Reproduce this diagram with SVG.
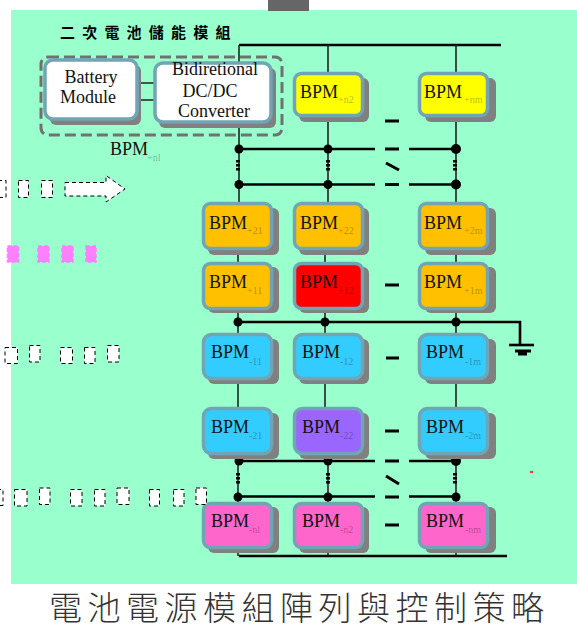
<svg xmlns="http://www.w3.org/2000/svg" width="577" height="636" viewBox="0 0 577 636">
<style>
.shadow{fill:#808080}
.box{stroke:#6fa5b5;stroke-width:3.500}
.o{fill:#ffc000}.y{fill:#ffff00}.b{fill:#33ccff}.r{fill:#ff0000}.p{fill:#9966ff}.k{fill:#ff66cc}.w{fill:#ffffff}
.t{font-family:"Liberation Serif","Times New Roman",serif;font-size:18px;fill:#111}
.s{font-family:"Liberation Serif","Times New Roman",serif;font-size:10px;fill:#000;fill-opacity:.3}
.thin{stroke:#222;stroke-width:1.600;fill:none}
.bus{stroke:#000;stroke-width:2.600;fill:none}
.dots{stroke:#000;stroke-width:4;stroke-dasharray:2.500 1.500;fill:none}
.gl{stroke:#000;stroke-width:3;fill:none}
.mb{fill:#fff;stroke:#000;stroke-width:1;stroke-dasharray:4 3}
.mp{fill:#ff80ff;stroke:#ff80ff;stroke-width:1.500;stroke-dasharray:4 2}
.cjk{font-family:"Noto Sans CJK TC","Liberation Serif",sans-serif}
</style>
<rect x="0" y="0" width="577" height="636" fill="#ffffff"/>
<rect x="11" y="10" width="566" height="574" fill="#99ffcc"/>
<rect x="268" y="0" width="41" height="11" fill="#666666"/>

<g id="connectors">
<path class="bus" d="M239 45H501M239 149H375M409 149H456M239 184.500H375M409 184.500H456M238 322H520V345M240 461H375M409 461H456M240 496.500H375M409 496.500H456M239 556H507"/>
<path class="thin" d="M239 45V62M328 45V72M456 45V72M239 128V202M328 122V202M456 122V202M238 250V262M325 250V262M456 250V262M238 310V333M325 310V333M456 310V333M238 380V407M325 380V407M456 380V407M238 455V502M328 455V502M456 455V502M238 548V556M328 548V556M456 548V556M141 83H154M141 100H154"/>
<path class="dots" d="M238 160V172M328 160V172M455 160V172M238 473V485M328 473V485M455 473V485"/>
<g fill="#000">
<circle cx="239" cy="149" r="4.500"/><circle cx="328" cy="149" r="4.500"/><circle cx="456" cy="149" r="5"/>
<circle cx="239" cy="184.500" r="4.500"/><circle cx="328" cy="184.500" r="4.500"/><circle cx="456" cy="184.500" r="5"/>
<circle cx="238" cy="322" r="4.500"/><circle cx="325" cy="322" r="4.500"/><circle cx="456" cy="322" r="4.500"/>
<circle cx="239" cy="461" r="4.500"/><circle cx="328" cy="461" r="4.500"/><circle cx="456" cy="461" r="5"/>
<circle cx="238" cy="497" r="4.500"/><circle cx="328" cy="497" r="4.500"/><circle cx="456" cy="497" r="4.500"/>
</g>
<path class="bus" d="M509 345H534"/>
<path stroke="#000" stroke-width="3" fill="none" d="M515 351H531M518 354H527"/>
<path class="gl" d="M385 121H399M385 149H399M385 184.500H399M385 285H399M386 358H399M385 431H399M385 461H399M385 497H399M385 525H399"/>
<path class="gl" d="M386 163L399 170M386 476L399 484"/>
<path stroke="#ff0000" stroke-width="1.500" d="M530 472H533"/>
</g>

<g id="label-title"><text class="cjk" x="60" y="38" font-size="15" font-weight="700" letter-spacing="7.200" fill="#000">二次電池儲能模組</text></g>

<g id="bpm-group"><rect x="41" y="57" width="241" height="78" rx="7" fill="none" stroke="#707070" stroke-width="3" stroke-dasharray="11 5"/></g>
<g id="battery-module">
<rect class="shadow" x="50" y="65" width="91" height="60" rx="6"/>
<rect class="box w" x="45" y="60" width="92" height="59" rx="8"/>
<text class="t" x="91" y="83" text-anchor="middle">Battery</text>
<text class="t" x="88" y="103" text-anchor="middle">Module</text>
</g>
<g id="converter">
<rect class="shadow" x="159" y="68" width="117" height="60" rx="6"/>
<rect class="box w" x="155" y="63" width="116" height="59" rx="8"/>
<text class="t" x="215" y="75" text-anchor="middle">Bidiretional</text>
<text class="t" x="210" y="97" text-anchor="middle">DC/DC</text>
<text class="t" x="214" y="117" text-anchor="middle">Converter</text>
</g>
<g id="label-n1"><text class="t" x="110" y="155">BPM</text><text class="s" x="147" y="161">+nl</text></g>

<g id="bpm-n2"><rect class="shadow" x="299" y="78" width="70" height="44" rx="6"/><rect class="box y" x="294.500" y="73.500" width="68" height="42" rx="7"/><text class="t" x="300" y="98">BPM</text><text class="s" x="338" y="103">+n2</text></g>
<g id="bpm-nm"><rect class="shadow" x="425" y="78" width="71" height="44" rx="6"/><rect class="box y" x="419.500" y="73.500" width="68" height="42" rx="7"/><text class="t" x="424" y="98">BPM</text><text class="s" x="464" y="103">+nm</text></g>

<g id="bpm-p21"><rect class="shadow" x="208" y="208" width="71" height="47" rx="6"/><rect class="box o" x="203.500" y="203.500" width="68" height="45" rx="7"/><text class="t" x="209" y="229">BPM</text><text class="s" x="247" y="234">+21</text></g>
<g id="bpm-p22"><rect class="shadow" x="299" y="208" width="70" height="47" rx="6"/><rect class="box o" x="294.500" y="203.500" width="68" height="45" rx="7"/><text class="t" x="300" y="229">BPM</text><text class="s" x="338" y="234">+22</text></g>
<g id="bpm-p2m"><rect class="shadow" x="425" y="208" width="71" height="47" rx="6"/><rect class="box o" x="419.500" y="203.500" width="68" height="45" rx="7"/><text class="t" x="424" y="229">BPM</text><text class="s" x="464" y="234">+2m</text></g>

<g id="bpm-p11"><rect class="shadow" x="208" y="267" width="71" height="46" rx="6"/><rect class="box o" x="203.500" y="263.500" width="68" height="45" rx="7"/><text class="t" x="209" y="288">BPM</text><text class="s" x="247" y="294">+11</text></g>
<g id="bpm-p12"><rect class="shadow" x="299" y="267" width="70" height="46" rx="6"/><rect class="box r" x="294.500" y="263.500" width="68" height="45" rx="7"/><text class="t" x="300" y="288">BPM</text><text class="s" x="338" y="294">+12</text></g>
<g id="bpm-p1m"><rect class="shadow" x="425" y="267" width="71" height="46" rx="6"/><rect class="box o" x="419.500" y="263.500" width="68" height="45" rx="7"/><text class="t" x="424" y="288">BPM</text><text class="s" x="464" y="294">+1m</text></g>

<g id="bpm-m11"><rect class="shadow" x="208" y="339" width="71" height="45" rx="6"/><rect class="box b" x="203.500" y="334.500" width="68" height="44" rx="8"/><text class="t" x="211" y="358">BPM</text><text class="s" x="249" y="365">-11</text></g>
<g id="bpm-m12"><rect class="shadow" x="299" y="339" width="70" height="45" rx="6"/><rect class="box b" x="294.500" y="334.500" width="68" height="44" rx="8"/><text class="t" x="302" y="358">BPM</text><text class="s" x="340" y="365">-12</text></g>
<g id="bpm-m1m"><rect class="shadow" x="425" y="339" width="71" height="45" rx="6"/><rect class="box b" x="419.500" y="334.500" width="68" height="44" rx="8"/><text class="t" x="426" y="358">BPM</text><text class="s" x="465" y="365">-1m</text></g>

<g id="bpm-m21"><rect class="shadow" x="208" y="413" width="71" height="46" rx="6"/><rect class="box b" x="203.500" y="408.500" width="68" height="45" rx="8"/><text class="t" x="211" y="433">BPM</text><text class="s" x="249" y="439">-21</text></g>
<g id="bpm-m22"><rect class="shadow" x="299" y="413" width="70" height="46" rx="6"/><rect class="box p" x="294.500" y="408.500" width="68" height="45" rx="8"/><text class="t" x="302" y="433">BPM</text><text class="s" x="340" y="439">-22</text></g>
<g id="bpm-m2m"><rect class="shadow" x="425" y="413" width="71" height="46" rx="6"/><rect class="box b" x="419.500" y="408.500" width="68" height="45" rx="8"/><text class="t" x="426" y="433">BPM</text><text class="s" x="465" y="439">-2m</text></g>

<g id="bpm-mn1"><rect class="shadow" x="208" y="507" width="71" height="46" rx="6"/><rect class="box k" x="203.500" y="503.500" width="68" height="44" rx="7"/><text class="t" x="211" y="527">BPM</text><text class="s" x="249" y="533">-nl</text></g>
<g id="bpm-mn2"><rect class="shadow" x="299" y="507" width="70" height="46" rx="6"/><rect class="box k" x="294.500" y="503.500" width="68" height="44" rx="7"/><text class="t" x="302" y="527">BPM</text><text class="s" x="340" y="533">-n2</text></g>
<g id="bpm-mnm"><rect class="shadow" x="425" y="507" width="71" height="46" rx="6"/><rect class="box k" x="419.500" y="503.500" width="68" height="44" rx="7"/><text class="t" x="426" y="527">BPM</text><text class="s" x="465" y="533">-nm</text></g>

<g id="left-marks">
<rect class="mb" x="-2" y="180.500" width="8" height="17"/><rect class="mb" x="18.500" y="180.500" width="10" height="17"/><rect class="mb" x="41.500" y="180.500" width="11" height="17"/>
<path class="mb" d="M65 182.500H106V175.500L125 189L106 202V196H65Z"/>
<rect class="mp" x="7.500" y="246" width="11" height="16"/><rect class="mp" x="38" y="246" width="11" height="16"/><rect class="mp" x="62" y="246" width="11" height="16"/><rect class="mp" x="86" y="246" width="10" height="16"/>
<rect class="mb" x="5" y="347.500" width="12.500" height="16"/><rect class="mb" x="29.500" y="345.500" width="10.500" height="16.500"/><rect class="mb" x="60.500" y="347.500" width="12" height="16"/><rect class="mb" x="84.500" y="347.500" width="10.500" height="16"/><rect class="mb" x="107.500" y="345.500" width="11.500" height="16.500"/>
<rect class="mb" x="-3" y="489.500" width="6" height="16"/><rect class="mb" x="14.500" y="489.500" width="12.500" height="16.500"/><rect class="mb" x="39.500" y="488" width="10.500" height="16.500"/><rect class="mb" x="70.500" y="489.500" width="11.500" height="16.500"/><rect class="mb" x="94.500" y="489.500" width="10.500" height="16.500"/><rect class="mb" x="117" y="488" width="12" height="16.500"/><rect class="mb" x="149.500" y="489.500" width="10" height="16.500"/><rect class="mb" x="173.500" y="489.500" width="10.500" height="16.500"/><rect class="mb" x="196" y="488" width="10.500" height="16.500"/>
</g>

<g id="caption"><text class="cjk" x="49" y="620" font-size="33" font-weight="300" letter-spacing="5.500" fill="#333">電池電源模組陣列與控制策略</text></g>
</svg>
